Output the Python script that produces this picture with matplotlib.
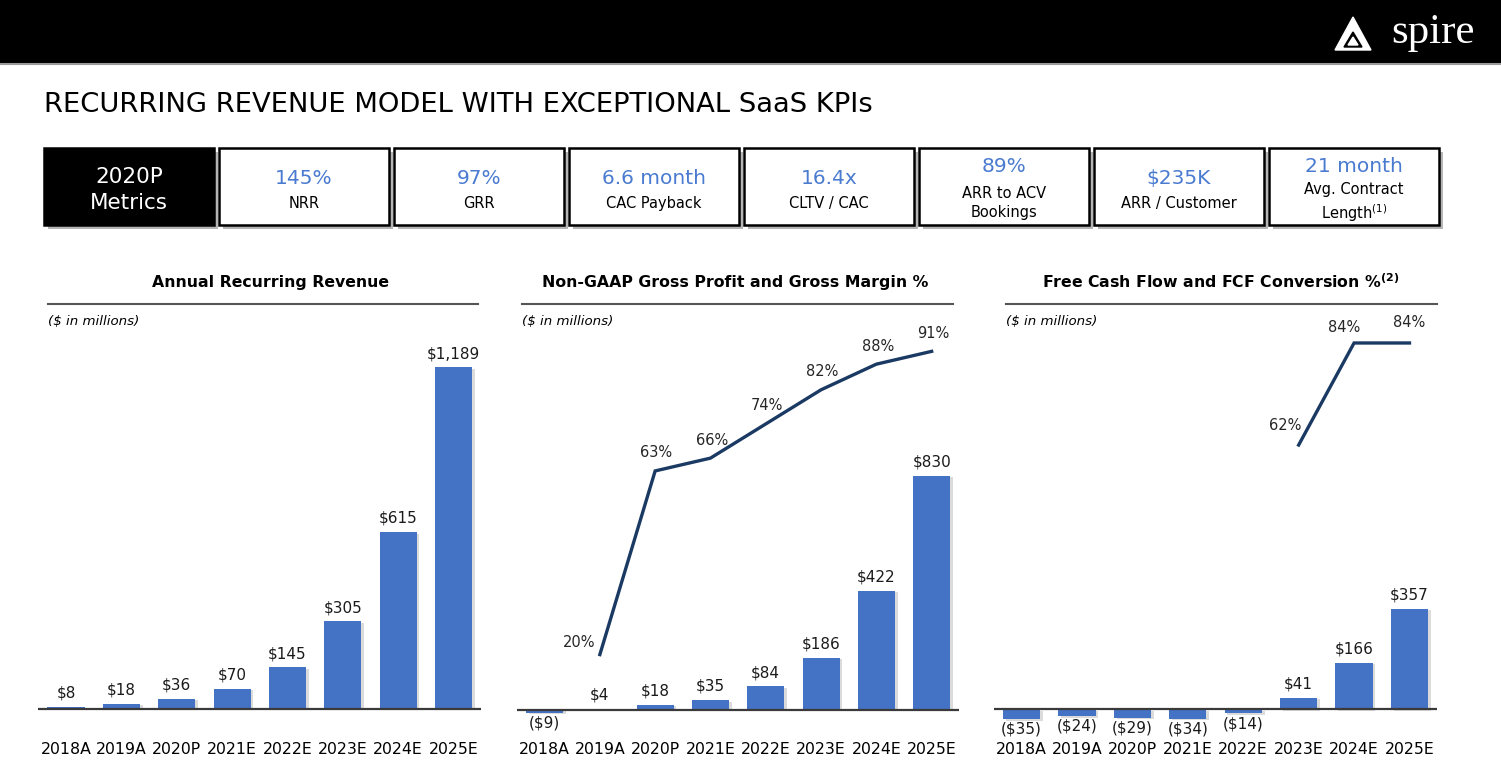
import numpy as np
import matplotlib.pyplot as plt
from matplotlib.patches import Rectangle, Polygon
from matplotlib import patheffects as pe

plt.rcParams['font.family'] = ['DejaVu Sans']

# ---- data ----
years = ['2018A', '2019A', '2020P', '2021E', '2022E', '2023E', '2024E', '2025E']
arr_values = [8, 18, 36, 70, 145, 305, 615, 1189]
gross_profit = [-9, 4, 18, 35, 84, 186, 422, 830]
gross_margin = [np.nan, 20, 63, 66, 74, 82, 88, 91]
fcf_values = [-35, -24, -29, -34, -14, 41, 166, 357]
fcf_conversion = [np.nan, np.nan, np.nan, np.nan, np.nan, 62, 84, 84]

kpi_values = ['145%', '97%', '6.6 month', '16.4x', '89%', '$235K', '21 month']
kpi_labels = ['NRR', 'GRR', 'CAC Payback', 'CLTV / CAC', 'ARR to ACV\nBookings',
              'ARR / Customer', 'Avg. Contract\nLength$^{(1)}$']

chart_titles = ['Annual Recurring Revenue',
                'Non-GAAP Gross Profit and Gross Margin %',
                r'Free Cash Flow and FCF Conversion %$^{\mathbf{(2)}}$']

BLUE = '#4472C4'
KPI_BLUE = '#4A7BD0'
NAVY = '#1B3A63'
W, H = 1501, 778

fig = plt.figure(figsize=(W / 100, H / 100), dpi=100)

# background layer in pixel coordinates
bg = fig.add_axes([0, 0, 1, 1])
bg.set_xlim(0, W)
bg.set_ylim(H, 0)
bg.axis('off')

# header bar + logo
bg.add_patch(Rectangle((0, 0), W, 62, color='black'))
bg.plot([0, W], [63.5, 63.5], color='#9a9a9a', lw=1.5)
bg.add_patch(Polygon([(1335, 50), (1353, 17), (1371, 50)], closed=True, color='white'))
bg.add_patch(Polygon([(1344, 47), (1353, 32), (1362, 47)], closed=True, color='black'))
bg.add_patch(Polygon([(1348, 45), (1353, 37), (1358, 45)], closed=True, color='white'))
bg.text(1391, 33, 'spire', color='white', family='Liberation Serif', fontsize=31,
        va='center', ha='left')

bg.text(44, 105, 'RECURRING REVENUE MODEL WITH EXCEPTIONAL SaaS KPIs',
        fontsize=19.7, va='center', ha='left', color='black')

# KPI boxes
for i in range(8):
    x0 = 44 + i * 175
    bg.add_patch(Rectangle((x0 + 4, 152), 170, 77, color='#b5b5b5', lw=0))
    if i == 0:
        bg.add_patch(Rectangle((x0, 148), 170, 77, facecolor='black',
                               edgecolor='black', lw=1.8))
        bg.text(x0 + 85, 177, '2020P', color='white', fontsize=15.5, ha='center', va='center')
        bg.text(x0 + 85, 203, 'Metrics', color='white', fontsize=15.5, ha='center', va='center')
        continue
    bg.add_patch(Rectangle((x0, 148), 170, 77, facecolor='white',
                           edgecolor='black', lw=1.8))
    value, label = kpi_values[i - 1], kpi_labels[i - 1]
    vy = 166 if '\n' in label else 178
    bg.text(x0 + 85, vy, value, color=KPI_BLUE, fontsize=14.5, ha='center', va='center')
    bg.text(x0 + 85, 203, label, color='black', fontsize=10.5, ha='center',
            va='center', linespacing=1.35)

# chart headers
title_x = [271, 735, 1221]
rule_x = [(48, 478), (522, 953), (1006, 1437)]
for t, tx, (r0, r1) in zip(chart_titles, title_x, rule_x):
    bg.text(tx, 282, t, fontsize=11.3, fontweight='bold', ha='center', va='center')
    bg.plot([r0, r1], [303.5, 303.5], color='#555555', lw=1.5)
    bg.text(r0, 321, '($ in millions)', fontsize=9.6, style='italic', ha='left', va='center')


def px_axes(x0, x1, y0=330, y1=740):
    return fig.add_axes([x0 / W, 1 - y1 / H, (x1 - x0) / W, (y1 - y0) / H])


def money(v):
    return f'${v:,}' if v >= 0 else f'(${-v:,})'


def bar_chart(ax, values, ylim):
    x = np.arange(len(years))
    bars = ax.bar(x, values, width=0.67, color=BLUE, zorder=3)
    for b in bars:
        b.set_path_effects([pe.SimplePatchShadow(offset=(2, -1), shadow_rgbFace='#9a9a9a',
                                                 alpha=0.35), pe.Normal()])
    for xi, v in zip(x, values):
        if v >= 0:
            ax.annotate(money(v), (xi, v), xytext=(0, 4.5), textcoords='offset points',
                        ha='center', va='bottom', fontsize=11, color='#1a1a1a')
        else:
            ax.annotate(money(v), (xi, v), xytext=(0, -2), textcoords='offset points',
                        ha='center', va='top', fontsize=11, color='#1a1a1a')
    ax.axhline(0, color='#3a3a3a', lw=1.6, zorder=4)
    ax.set_xlim(-0.5, len(years) - 0.5)
    ax.set_ylim(*ylim)
    ax.set_xticks(x)
    ax.set_xticklabels(years, fontsize=11.3)
    ax.tick_params(axis='x', length=0, pad=1.5)
    ax.set_yticks([])
    for s in ax.spines.values():
        s.set_visible(False)
    ax.patch.set_alpha(0)


def pct_line(ax, pcts, ylim, offsets):
    x = np.arange(len(years))
    tw = ax.twinx()
    tw.plot(x, pcts, color=NAVY, lw=2.4, solid_joinstyle='miter', zorder=5)
    k = 0
    for xi, p in zip(x, pcts):
        if np.isnan(p):
            continue
        off = offsets[k] if k < len(offsets) else (1, 13)
        k += 1
        tw.annotate(f'{p:.0f}%', (xi, p), xytext=off, textcoords='offset points',
                    ha='center', va='center', fontsize=10.5, color='#262626')
    tw.set_ylim(*ylim)
    tw.set_yticks([])
    for s in tw.spines.values():
        s.set_visible(False)


ax1 = px_axes(38.3, 481.2)
bar_chart(ax1, arr_values, (-107.9, 1318.7))

ax2 = px_axes(516.9, 959.3)
bar_chart(ax2, gross_profit, (-106.4, 1348))
pct_line(ax2, gross_margin, (0, 96), [(-15, 9)])

ax3 = px_axes(993.8, 1437.2)
bar_chart(ax3, fcf_values, (-109, 1350))
pct_line(ax3, fcf_conversion, (-1.6, 86.8), [(-10, 14), (-7, 11), (0, 15)])

fig.savefig('out.png', dpi=100)
